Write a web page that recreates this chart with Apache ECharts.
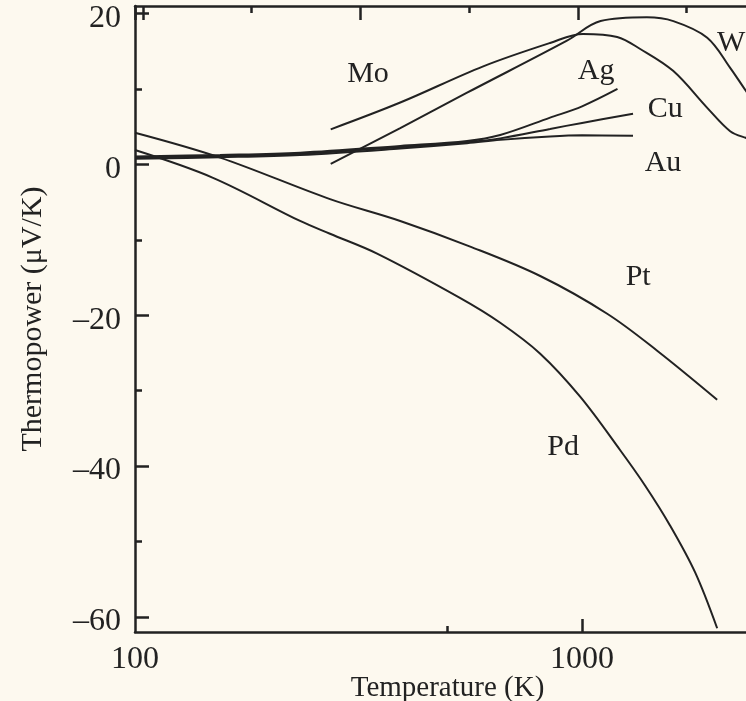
<!DOCTYPE html>
<html>
<head>
<meta charset="utf-8">
<script src="https://cdn.jsdelivr.net/npm/echarts@6/dist/echarts.min.js"></script>
<style>
html,body{margin:0;padding:0;background:#fdf9ef;}
#c{width:746px;height:701px;}
</style>
</head>
<body>
<div id="c"></div>
<script>
// Temperature (K) and thermopower (µV/K)
const auT = [100, 155, 234, 392, 553, 656, 848, 1000, 1300];
const auS = [0.75, 0.95, 1.25, 2.1, 2.8, 3.25, 3.7, 3.85, 3.8];
const cuT = [100, 155, 234, 392, 553, 656, 848, 1000, 1300];
const cuS = [0.9, 1.1, 1.4, 2.3, 2.95, 3.45, 4.7, 5.5, 6.7];
const agT = [100, 155, 234, 392, 553, 656, 848, 1000, 1200];
const agS = [1.05, 1.25, 1.55, 2.45, 3.1, 3.9, 6.2, 7.7, 10.0];
const moT = [274, 392, 601, 848, 1005, 1198, 1349, 1598, 1905, 2144, 2328, 2500];
const moS = [4.65, 8.2, 13.0, 16.1, 17.3, 16.9, 15.3, 12.4, 7.5, 4.4, 3.5, 3.0];
const wT = [274, 392, 553, 925, 1100, 1396, 1600, 1905, 2144, 2328, 2500];
const wS = [0.07, 4.8, 9.5, 16.4, 19.0, 19.5, 19.0, 16.8, 12.8, 9.7, 7.2];
const ptT = [100, 155, 273, 392, 562, 806, 1138, 1472, 2005];
const ptS = [4.2, 0.9, -4.6, -7.5, -10.9, -14.8, -19.8, -24.7, -31.2];
const pdT = [100, 149, 234, 273, 347, 533, 656, 806, 990, 1217, 1384, 1574, 1790, 2005];
const pdS = [1.9, -1.75, -7.5, -9.2, -11.8, -17.7, -21.0, -25.1, -30.8, -37.9, -42.6, -47.9, -54.1, -61.5];

const labelNames = ['Mo', 'Ag', 'Cu', 'Au', 'Pt', 'Pd', 'W'];
const labelT = [332, 1075, 1534, 1517, 1335, 907, 2155];
const labelS = [12.0, 12.4, 7.35, 0.2, -14.9, -37.5, 16.1];

const xMajorTicks = [1000];
const xMinorTicks = [500];
const xTickLabels = [100, 1000];
const yMajorTicks = [-60, -40, -20, 0, 20];
const yMinorTicks = [-50, -30, -10, 10];

const pairs = (t, s) => t.map((v, i) => [v, s[i]]);
const ink = '#222';
const txt = '#222';
const serif = '"Liberation Serif", "DejaVu Serif", serif';

const lineSeries = (name, t, s) => ({
  name, type: 'line', data: pairs(t, s), xAxisIndex: 0, yAxisIndex: 0,
  showSymbol: false, symbol: 'none', smooth: 0.35,
  lineStyle: { color: ink, width: 2 }, z: 3, silent: true
});

const chart = echarts.init(document.getElementById('c'), null, { renderer: 'canvas' });
chart.setOption({
  animation: false,
  backgroundColor: '#fdf9ef',
  grid: { left: 135, top: 6, width: 625, height: 626, containLabel: false, outerBoundsMode: 'none' },
  xAxis: [
    {
      type: 'log', logBase: 10, min: 100, max: 2500, position: 'bottom',
      axisLine: { show: true, onZero: false, lineStyle: { color: ink, width: 2.5 } },
      axisTick: { show: true, inside: true, length: 13, customValues: xMajorTicks, lineStyle: { color: ink, width: 2.5 } },
      axisLabel: { show: true, customValues: xTickLabels, color: txt, fontFamily: serif, fontSize: 32, margin: 12,
        formatter: v => String(v) },
      splitLine: { show: false },
      name: 'Temperature (K)', nameLocation: 'middle', nameGap: 42, nameMoveOverlap: false,
      nameTextStyle: { color: txt, fontFamily: serif, fontSize: 29 }
    },
    {
      type: 'log', logBase: 10, min: 100, max: 2500, position: 'bottom',
      axisLine: { show: false, onZero: false },
      axisTick: { show: true, inside: true, length: 6, customValues: xMinorTicks, lineStyle: { color: ink, width: 2.5 } },
      axisLabel: { show: false },
      splitLine: { show: false }
    },
    {
      type: 'value', min: -0.0368, max: 2.837, splitNumber: 3, position: 'top',
      axisLine: { show: true, onZero: false, lineStyle: { color: ink, width: 2.5 } },
      axisTick: { show: true, inside: true, length: 14, lineStyle: { color: ink, width: 2.5 } },
      minorTick: { show: true, splitNumber: 2, length: 7, lineStyle: { color: ink, width: 2.5 } },
      axisLabel: { show: false },
      splitLine: { show: false }
    }
  ],
  yAxis: [
    {
      type: 'value', min: -62, max: 21, position: 'left',
      axisLine: { show: true, onZero: false, lineStyle: { color: ink, width: 2.5 } },
      axisTick: { show: true, inside: true, length: 14, customValues: yMajorTicks, lineStyle: { color: ink, width: 2.5 } },
      axisLabel: {
        show: true, customValues: yMajorTicks, margin: 14,
        formatter: v => '{v|' + String(v).replace('-', '\u2013') + '}',
        rich: { v: { color: txt, fontFamily: serif, fontSize: 32, padding: [10, 0, 0, 0] } }
      },
      splitLine: { show: false },
      name: 'Thermopower (\u03bcV/K)', nameLocation: 'middle', nameGap: 87, nameRotate: 90, nameMoveOverlap: false,
      nameTextStyle: { color: txt, fontFamily: serif, fontSize: 30 }
    },
    {
      type: 'value', min: -62, max: 21, position: 'left',
      axisLine: { show: false, onZero: false },
      axisTick: { show: true, inside: true, length: 7, customValues: yMinorTicks, lineStyle: { color: ink, width: 2.5 } },
      axisLabel: { show: false },
      splitLine: { show: false }
    }
  ],
  series: [
    lineSeries('Au', auT, auS),
    lineSeries('Cu', cuT, cuS),
    lineSeries('Ag', agT, agS),
    lineSeries('Mo', moT, moS),
    lineSeries('W', wT, wS),
    lineSeries('Pt', ptT, ptS),
    lineSeries('Pd', pdT, pdS),
    {
      type: 'scatter', xAxisIndex: 0, yAxisIndex: 0, symbolSize: 0, silent: true, z: 4,
      itemStyle: { opacity: 1, color: txt },
      data: labelNames.map((n, i) => ({ name: n, value: [labelT[i], labelS[i]] })),
      label: { show: true, position: 'inside', formatter: p => p.name, color: txt, opacity: 1, fontFamily: serif, fontSize: 30 }
    }
  ]
});
</script>
</body>
</html>
